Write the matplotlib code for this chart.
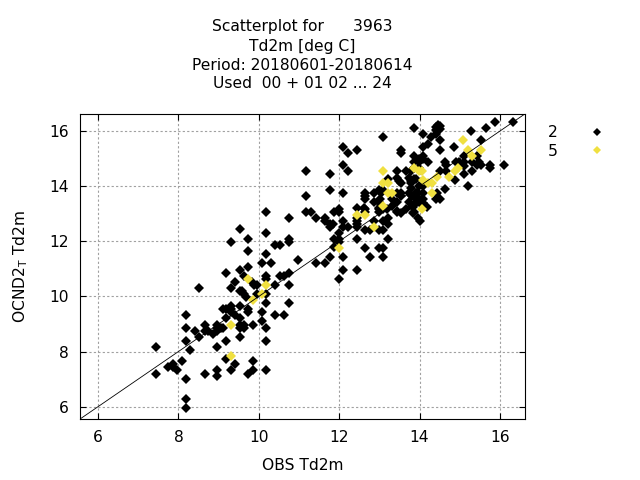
import numpy as np
import matplotlib
matplotlib.use('Agg')
import matplotlib.pyplot as plt

# titulo y etiquetas
title_lines = ['Scatterplot for      3963',
               'Td2m [deg C]',
               'Period: 20180601-20180614',
               'Used  00 + 01 02 ... 24']
xlabel = 'OBS Td2m'
ylabel = r'OCND2$_{\rm T}$ Td2m'
series_labels = ['2', '5']
xticks = [6, 8, 10, 12, 14, 16]
yticks = [6, 8, 10, 12, 14, 16]
lims = (5.55, 16.62)

# serie "2": (obs, modelo)
pts_2 = np.array([
    (7.43, 8.18), (7.43, 7.19), (7.75, 7.43), (7.87, 7.53), (7.87, 7.43), (7.97, 7.32),
    (8.10, 7.64), (8.20, 9.33), (8.20, 8.84), (8.20, 8.40), (8.20, 6.99), (8.20, 6.28),
    (8.20, 5.95), (8.30, 8.07), (8.42, 8.73), (8.52, 8.51), (8.52, 10.30), (8.65, 8.98),
    (8.65, 8.73), (8.65, 7.19), (8.74, 8.73), (8.87, 8.62), (8.95, 8.98), (8.95, 8.84),
    (8.95, 8.73), (9.05, 8.84), (9.10, 8.84), (8.95, 8.18), (8.95, 7.32), (8.95, 7.10),
    (9.10, 9.53), (9.18, 9.53), (9.18, 9.20), (9.18, 8.40), (9.18, 7.74), (9.18, 10.85),
    (9.30, 10.30), (9.30, 9.64), (9.30, 9.53), (9.30, 9.42), (9.30, 7.32), (9.30, 11.98),
    (9.40, 10.53), (9.40, 9.33), (9.40, 7.53), (9.52, 12.43), (9.52, 10.97), (9.52, 10.19),
    (9.52, 9.64), (9.52, 9.20), (9.52, 8.98), (9.52, 8.84), (9.52, 8.51), (9.62, 10.75),
    (9.57, 10.19), (9.62, 10.08), (9.67, 9.97), (9.62, 8.98), (9.62, 8.84), (9.73, 12.10),
    (9.73, 11.66), (9.73, 11.08), (9.73, 9.53), (9.73, 9.42), (9.73, 7.19), (9.83, 10.53),
    (9.88, 10.42), (9.86, 8.98), (9.86, 7.64), (9.86, 7.32), (9.96, 10.42), (9.96, 10.08),
    (10.08, 11.21), (10.08, 9.42), (10.08, 9.09), (10.18, 13.08), (10.18, 12.31), (10.18, 11.54),
    (10.18, 10.75), (10.18, 10.64), (10.18, 10.08), (10.18, 9.75), (10.18, 8.84), (10.18, 8.40),
    (10.18, 7.32), (10.30, 11.21), (10.40, 11.88), (10.53, 11.88), (10.53, 10.75), (10.63, 10.75),
    (10.40, 10.42), (10.40, 9.31), (10.63, 9.31), (10.75, 12.86), (10.75, 12.07), (10.75, 11.98),
    (10.75, 10.86), (10.75, 10.42), (10.75, 9.75), (10.98, 11.31), (11.18, 14.54), (11.18, 13.66),
    (11.18, 13.08),
    (11.31, 13.07), (11.42, 12.86), (11.64, 12.86), (11.64, 12.75), (11.77, 14.43), (11.77, 13.88),
    (12.09, 15.43), (12.09, 14.76), (12.22, 15.21), (12.22, 14.54), (12.44, 15.30), (12.09, 13.77),
    (11.77, 12.52), (11.77, 12.63), (11.84, 12.63), (11.87, 13.07), (11.99, 13.18), (11.99, 13.07),
    (12.09, 12.74), (11.99, 12.30), (12.09, 12.52), (12.22, 12.52), (11.87, 12.09), (11.99, 12.09),
    (11.99, 11.98), (11.87, 11.78), (11.77, 11.43), (12.09, 11.43), (11.42, 11.21), (11.64, 11.21),
    (12.09, 10.95), (11.99, 10.64), (12.44, 10.95), (12.44, 12.09), (12.64, 11.76), (12.76, 11.43),
    (12.99, 11.76), (13.09, 11.76), (13.09, 11.43), (13.21, 12.09),
    (12.44, 13.20), (12.62, 13.20), (12.44, 12.85), (12.44, 12.74), (12.44, 12.63), (12.44, 12.52),
    (12.64, 13.18), (12.64, 13.07), (12.64, 12.41), (12.76, 12.41), (12.86, 12.74), (12.99, 12.41),
    (13.09, 12.41), (13.09, 12.74), (13.21, 12.85), (13.21, 12.63), (12.99, 13.18), (12.99, 13.07),
    (13.09, 13.18), (13.31, 13.28), (13.43, 13.07), (13.66, 13.18), (13.86, 13.07),
    (12.64, 13.77), (12.64, 13.66), (12.64, 13.55), (12.86, 13.77), (12.99, 13.88), (13.05, 13.77),
    (13.09, 13.88), (13.02, 13.55), (12.99, 13.44), (13.05, 13.33), (12.86, 13.44), (12.99, 13.22),
    (13.19, 13.16), (13.44, 13.10),
    (13.44, 13.77), (13.53, 13.77), (13.53, 13.66), (13.32, 13.55), (13.44, 13.44), (13.43, 14.54),
    (13.66, 14.54), (13.43, 14.30), (13.48, 14.20), (13.53, 14.10), (13.74, 14.30), (13.78, 14.20),
    (13.78, 14.10), (13.09, 15.78), (13.53, 15.30), (13.53, 15.21), (13.86, 16.12), (13.86, 15.08),
    (13.21, 14.25), (13.96, 12.86), (14.00, 12.73), (14.02, 13.40), (13.75, 13.44), (13.81, 13.28),
    (13.53, 13.04), (13.75, 13.77), (13.82, 13.66), (13.90, 13.40), (13.96, 13.77),
    (14.42, 16.15), (14.47, 16.22), (14.52, 16.20), (14.42, 16.05), (14.52, 16.08), (14.09, 15.89),
    (14.29, 15.78), (14.42, 15.89), (14.21, 15.53), (14.09, 15.41), (14.52, 15.66), (14.09, 15.08),
    (14.52, 15.32), (14.87, 15.41), (15.29, 16.00), (15.65, 16.12), (15.87, 16.33), (16.33, 16.33),
    (15.52, 15.66), (15.42, 15.10), (15.47, 14.88), (15.10, 15.10), (15.30, 14.88), (15.42, 14.76),
    (15.52, 14.76), (15.75, 14.76), (15.75, 14.65), (16.10, 14.76), (15.30, 14.55), (15.10, 14.43),
    (14.88, 14.21), (14.52, 14.55), (14.64, 14.88), (14.67, 14.76), (14.67, 14.55), (14.92, 14.86),
    (14.98, 14.86), (15.10, 14.86), (15.10, 14.74), (15.20, 13.99), (14.64, 13.89), (14.42, 13.55),
    (14.52, 13.55), (14.43, 13.77), (14.09, 13.99), (14.09, 13.77), (14.09, 13.55), (13.98, 13.99),
    (13.86, 14.86), (13.86, 14.65), (13.98, 14.98), (13.98, 14.86), (14.09, 14.98), (14.21, 14.86),
    (13.98, 14.65), (13.80, 14.55), (13.86, 14.25), (13.90, 14.25), (13.80, 13.95), (13.90, 13.77),
    (13.90, 13.55), (13.98, 13.55), (14.09, 13.40), (13.84, 13.25), (13.84, 13.04), (14.19, 13.25),
])

# serie "5"
pts_5 = np.array([
    (9.30, 8.98), (9.30, 7.85), (9.73, 10.63), (9.86, 9.86), (10.08, 10.08), (10.18, 10.42),
    (11.99, 11.76), (12.44, 12.96), (12.64, 12.96), (12.86, 12.52), (13.09, 13.29), (13.09, 14.54),
    (13.09, 14.11), (13.21, 14.11), (13.21, 13.77), (13.31, 13.77), (13.86, 14.65), (13.98, 14.55),
    (14.05, 14.55), (14.07, 13.18), (14.09, 14.22), (14.21, 14.11), (14.30, 14.11), (14.30, 13.77),
    (14.43, 14.32), (14.74, 14.32), (14.88, 14.55), (14.95, 14.65), (15.09, 15.66), (15.20, 15.32),
    (15.30, 15.10), (15.52, 15.32),
])

plt.rcParams['font.family'] = ['DejaVu Sans']
fig = plt.figure(figsize=(6.4, 4.8), dpi=100)
ax = fig.add_axes([0.125, 0.127, 0.695, 0.6355])

ax.plot(pts_2[:, 0], pts_2[:, 1], 'D', color='black', ms=5, mew=0, label=series_labels[0])
ax.plot(pts_5[:, 0], pts_5[:, 1], 'D', color='#f0e040', ms=5, mew=0, label=series_labels[1])
ax.plot(lims, lims, color='black', lw=0.6)

fs = 11.2
ax.set_xlim(lims)
ax.set_ylim(lims)
ax.set_xticks(xticks)
ax.set_yticks(yticks)
ax.tick_params(direction='in', length=4, top=True, right=True, labelsize=fs, pad=8)
ax.grid(True, color='#a0a0a0', linestyle=(0, (2.0, 2.0)), linewidth=0.8)
ax.set_axisbelow(True)
ax.set_xlabel(xlabel, fontsize=fs, labelpad=9)
ax.set_ylabel(ylabel, fontsize=fs, labelpad=14)

for i, line in enumerate(title_lines):
    fig.text(0.4727, 1 - (27 + 19 * i) / 480, line, ha='center', va='center', fontsize=fs)

ax.legend(loc='upper left', bbox_to_anchor=(1.02, 1.01), frameon=False, markerfirst=False,
          handletextpad=2.0, markerscale=0.75, fontsize=fs, labelspacing=0.25, handlelength=1.0)

plt.savefig('out.png', dpi=100)
